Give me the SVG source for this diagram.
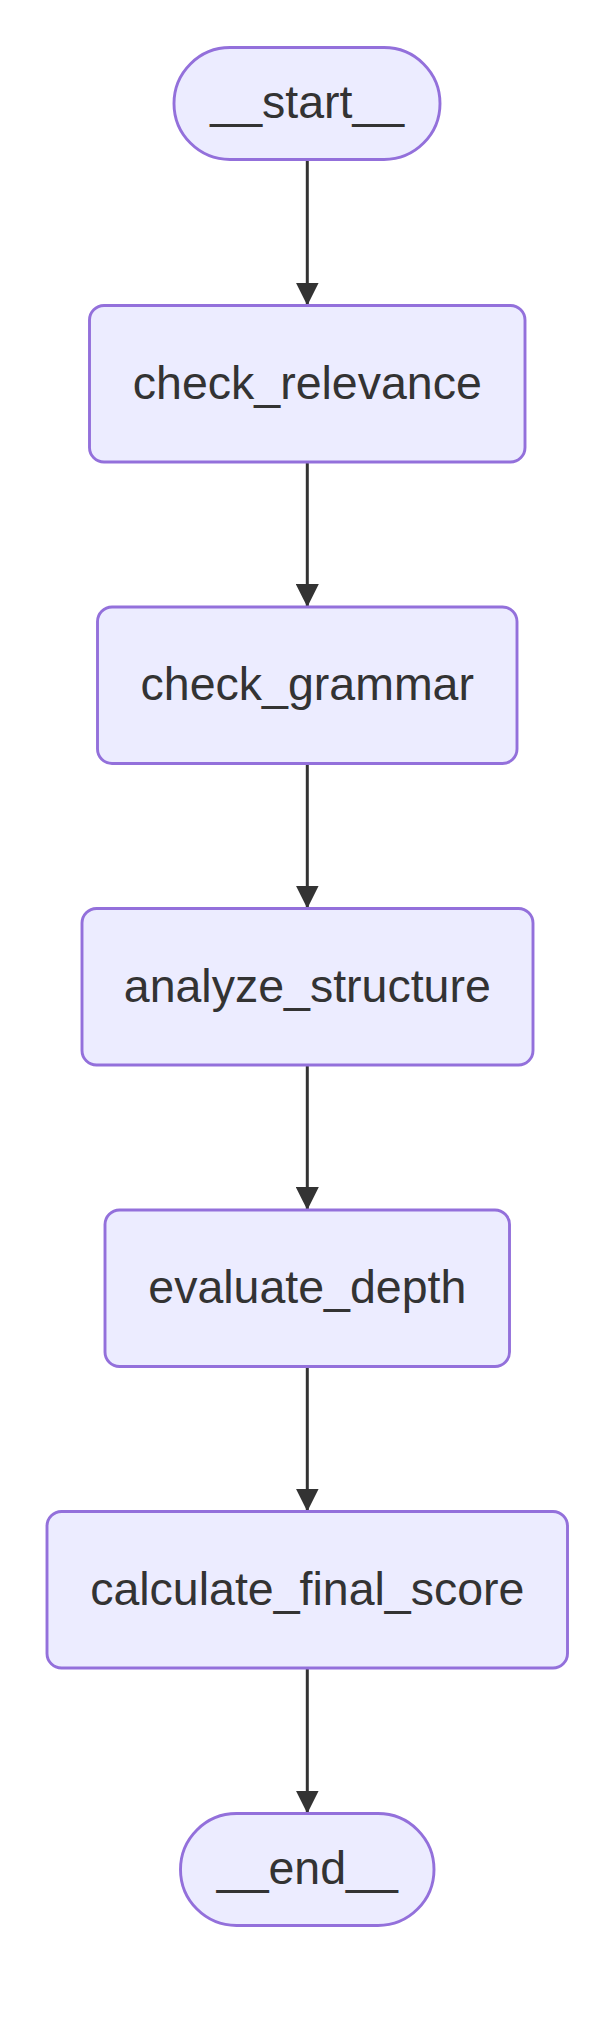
<svg xmlns="http://www.w3.org/2000/svg" width="615" height="2022" viewBox="0 0 615 2022">
  <style>
    .node rect { fill: #ECECFF; stroke: #9370DB; stroke-width: 2.9; }
    .node text { font-family: "Liberation Sans", Arial, sans-serif; font-size: 46.5px; fill: #333333; text-anchor: middle; }
    .edge { stroke: #333333; stroke-width: 3; fill: none; marker-end: url(#arrow); }
  </style>
  <defs>
    <marker id="arrow" markerUnits="userSpaceOnUse" markerWidth="23" markerHeight="23" viewBox="0 0 10 10" refX="10" refY="5" orient="auto">
      <path d="M0,0 L10,5 L0,10 z" fill="#333333"/>
    </marker>
  </defs>
  <rect width="615" height="2022" fill="#ffffff"/>
  <g id="edges">
    <line class="edge" x1="307.3" y1="159.5" x2="307.3" y2="305.5"/>
    <line class="edge" x1="307.3" y1="462" x2="307.3" y2="607"/>
    <line class="edge" x1="307.3" y1="763.5" x2="307.3" y2="908.5"/>
    <line class="edge" x1="307.3" y1="1065" x2="307.3" y2="1210"/>
    <line class="edge" x1="307.3" y1="1366.5" x2="307.3" y2="1511.5"/>
    <line class="edge" x1="307.3" y1="1668" x2="307.3" y2="1813.5"/>
  </g>
  <g id="node-start" class="node">
    <rect x="174" y="47.5" width="266" height="112" rx="56" ry="56"/>
    <text x="307.3" y="118">__start__</text>
  </g>
  <g id="node-check_relevance" class="node">
    <rect x="89.5" y="305.5" width="435.5" height="156.5" rx="14.5" ry="14.5"/>
    <text x="307.3" y="398.5">check_relevance</text>
  </g>
  <g id="node-check_grammar" class="node">
    <rect x="97.5" y="607" width="419.5" height="156.5" rx="14.5" ry="14.5"/>
    <text x="307.3" y="700">check_grammar</text>
  </g>
  <g id="node-analyze_structure" class="node">
    <rect x="82" y="908.5" width="451" height="156.5" rx="14.5" ry="14.5"/>
    <text x="307.3" y="1001.5">analyze_structure</text>
  </g>
  <g id="node-evaluate_depth" class="node">
    <rect x="105" y="1210" width="404.5" height="156.5" rx="14.5" ry="14.5"/>
    <text x="307.3" y="1303">evaluate_depth</text>
  </g>
  <g id="node-calculate_final_score" class="node">
    <rect x="47" y="1511.5" width="520.5" height="156.5" rx="14.5" ry="14.5"/>
    <text x="307.3" y="1604.5">calculate_final_score</text>
  </g>
  <g id="node-end" class="node">
    <rect x="180.5" y="1813.5" width="253.5" height="112" rx="56" ry="56"/>
    <text x="307.3" y="1884">__end__</text>
  </g>
</svg>
